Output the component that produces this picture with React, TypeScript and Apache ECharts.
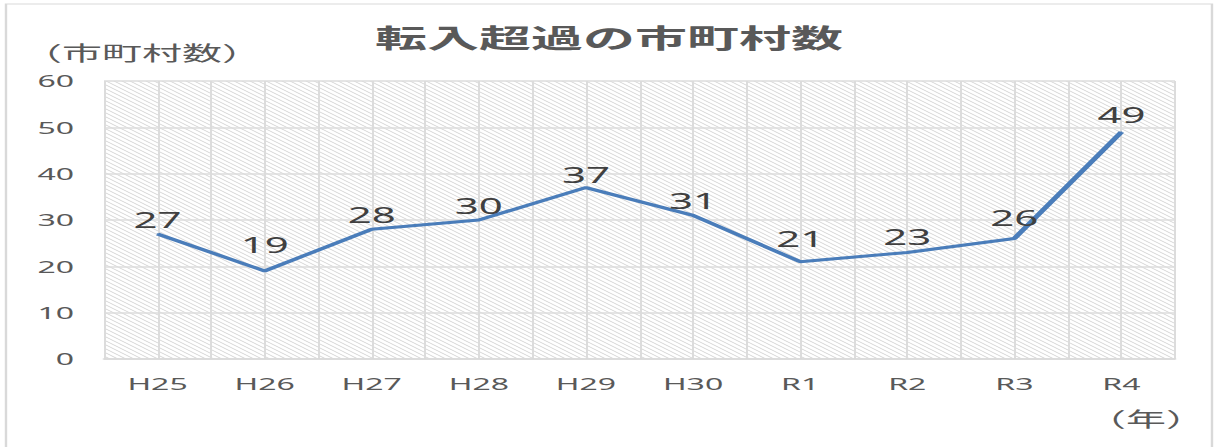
import React, { useEffect, useRef } from "react";
import * as echarts from "echarts";

const categories = ["H25", "H26", "H27", "H28", "H29", "H30", "R1", "R2", "R3", "R4"];
const values = [27, 19, 28, 30, 37, 31, 21, 23, 26, 49];
const titleText = "転入超過の市町村数";
const yUnit = "（市町村数）";
const xUnit = "（年）";

// label distance from the point (px), following the reference placement
const labelGaps = [3, 15, 3, 3, 1, 3, 12, 4, 9, 6];

// The reference is horizontally stretched about 2x; we render at half width and scale.
const STRETCH = 2;
const W = 1218 / STRETCH;
const H = 447;

const hatchSvg =
  "<svg xmlns='http://www.w3.org/2000/svg' width='4' height='4'>" +
  "<rect width='4' height='4' fill='white'/>" +
  "<path d='M-4,-4 L8,8 M0,-4 L8,4 M-4,0 L4,8' stroke='%23d4d4d4' stroke-width='0.6'/></svg>";
const hatchUrl = "data:image/svg+xml;utf8," + hatchSvg;

const FONT = "'Noto Sans', 'Noto Sans CJK JP', sans-serif";
const CJK = "'Noto Sans CJK JP', sans-serif";

export default function App() {
  const ref = useRef<HTMLDivElement>(null);
  useEffect(() => {
    if (!ref.current) return;
    const chart = echarts.init(ref.current, undefined, { renderer: "svg" });
    chart.setOption({
      animation: false,
      textStyle: { fontFamily: FONT },
      title: [
        {
          text: titleText,
          left: "center",
          top: 19,
          textStyle: { fontSize: 26, fontWeight: "bold", color: "#595959", fontFamily: CJK },
        },
        {
          text: yUnit,
          left: 6,
          top: 37,
          textStyle: { fontSize: 20, fontWeight: "normal", color: "#595959", fontFamily: CJK },
        },
        {
          text: xUnit,
          left: 538,
          top: 403,
          textStyle: { fontSize: 20, fontWeight: "normal", color: "#595959", fontFamily: CJK },
        },
      ],
      graphic: [
        {
          type: "rect",
          shape: { x: 3, y: 4, width: W - 6, height: H + 20 },
          style: { fill: "none", stroke: "#d9d9d9", lineWidth: 1.2 },
          silent: true,
        },
      ],
      grid: {
        left: 52,
        right: W - 587.5,
        top: 81,
        bottom: H - 359,
        show: true,
        borderWidth: 0,
        backgroundColor: { image: hatchUrl, repeat: "repeat" },
      },
      xAxis: [
        {
          type: "category",
          data: categories,
          boundaryGap: true,
          axisLine: { show: true, lineStyle: { color: "#d9d9d9", width: 1.5 } },
          axisTick: { show: false },
          axisLabel: { fontSize: 16, color: "#595959", margin: 17, fontFamily: FONT },
          splitLine: { show: true, lineStyle: { color: "#dcdcdc", width: 1 } },
        },
        {
          type: "value",
          position: "top",
          min: 0,
          max: 20,
          interval: 1,
          axisLine: { show: false },
          axisTick: { show: false },
          axisLabel: { show: false },
          splitLine: { show: true, lineStyle: { color: "#dcdcdc", width: 1 } },
        },
      ],
      yAxis: {
        type: "value",
        min: 0,
        max: 60,
        interval: 10,
        axisLine: { show: false },
        axisTick: { show: false },
        axisLabel: { fontSize: 16, color: "#595959", margin: 15, fontFamily: FONT },
        splitLine: { show: true, lineStyle: { color: "#dcdcdc", width: 1.5 } },
      },
      series: [
        {
          type: "line",
          xAxisIndex: 0,
          data: values.map((v, i) => ({ value: v, label: { distance: labelGaps[i] } })),
          symbol: "circle",
          symbolSize: 1,
          showSymbol: true,
          itemStyle: { color: "#4a7dba" },
          lineStyle: { color: "#4a7dba", width: 3 },
          label: {
            show: true,
            position: "top",
            fontSize: 21,
            color: "#404040",
            fontFamily: FONT,
          },
        },
      ],
    });
    return () => chart.dispose();
  }, []);
  return (
    <div
      ref={ref}
      style={{
        position: "absolute",
        left: 0,
        top: 0,
        width: W,
        height: H,
        transform: `scaleX(${STRETCH})`,
        transformOrigin: "0 0",
      }}
    />
  );
}
